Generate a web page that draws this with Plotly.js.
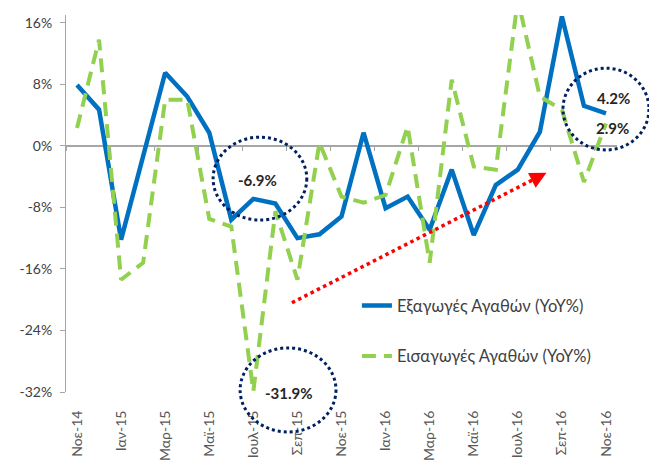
<!DOCTYPE html>
<html>
<head>
<meta charset="utf-8">
<script src="https://cdn.plot.ly/plotly-3.0.1.min.js"></script>
<style>html,body{margin:0;padding:0;background:#fff;}#chart{width:649px;height:461px;}</style>
</head>
<body>
<div id="chart"></div>
<script>
const months = ["Νοε-14","Δεκ-14","Ιαν-15","Φεβ-15","Μαρ-15","Απρ-15","Μαϊ-15","Ιουν-15","Ιουλ-15","Αυγ-15","Σεπ-15","Οκτ-15",
                "Νοε-15","Δεκ-15","Ιαν-16","Φεβ-16","Μαρ-16","Απρ-16","Μαϊ-16","Ιουν-16","Ιουλ-16","Αυγ-16","Σεπ-16","Οκτ-16","Νοε-16"];
const exportsYoY = [7.9, 4.7, -12.2, -1.5, 9.5, 6.4, 1.7, -9.6, -6.9, -7.5, -12.0, -11.5,
                    -9.2, 1.7, -8.1, -6.6, -10.9, -3.1, -11.6, -5.1, -3.1, 1.8, 16.8, 5.2, 4.2];
const importsYoY = [2.3, 13.8, -17.4, -15.2, 6.0, 6.0, -9.5, -10.5, -31.9, -8.5, -17.4, 0.4,
                    -6.6, -7.4, -6.4, 2.5, -15.2, 8.6, -2.7, -3.1, 19.0, 6.4, 4.7, -4.7, 2.9];
const labelMonths = months.filter((m, i) => i % 2 === 0);
const yTicks = [-32, -24, -16, -8, 0, 8, 16];
const yTickText = yTicks.map(v => v + "%");
const seriesNames = ["Εξαγωγές Αγαθών (YoY%)", "Εισαγωγές Αγαθών (YoY%)"];

const FONT = "Lato, 'Open Sans', sans-serif";
const traces = [
  {x: months, y: exportsYoY, type: "scatter", mode: "lines", name: seriesNames[0], legendgroup: "a",
   line: {color: "#0070C0", width: 4.5}},
  {x: months, y: importsYoY, type: "scatter", mode: "lines", name: seriesNames[1], legendgroup: "b",
   line: {color: "#92D050", width: 4, dash: "14px,8px"}},
  {x: [], y: [], xaxis: "x2", type: "scatter", showlegend: false, hoverinfo: "skip"}
];

const navy = "#002060";
const ann = (x, y, t) => ({xref: "paper", yref: "paper", x: x, y: y, xanchor: "center", yanchor: "middle",
  text: "<b>" + t + "</b>", showarrow: false, font: {family: FONT, size: 15, color: "#262626"}});
const layout = {
  width: 649, height: 461,
  margin: {l: 66, r: 32, t: 15, b: 69},
  paper_bgcolor: "#fff", plot_bgcolor: "#fff",
  font: {family: FONT, color: "#595959", size: 13},
  showlegend: true,
  legend: {x: 0.528, y: 0.275, xanchor: "left", yanchor: "top", tracegroupgap: 26,
           font: {family: FONT, size: 16.5, color: "#404040"}, bgcolor: "rgba(0,0,0,0)"},
  xaxis: {type: "category", range: [-0.5, 24.5], tickvals: labelMonths, ticktext: labelMonths,
          tickangle: -90, showline: false, showgrid: false, zeroline: false,
          ticks: "outside", ticklen: 12, tickcolor: "rgba(0,0,0,0)", automargin: false,
          tickfont: {family: FONT, size: 14, color: "#595959"}},
  xaxis2: {overlaying: "x", anchor: "free", position: 0.6525, range: [-0.5, 24.5],
           tickvals: [-0.5,1.5,3.5,5.5,7.5,9.5,11.5,13.5,15.5,17.5,19.5,21.5,23.5],
           showticklabels: false, ticks: "outside", ticklen: 4, tickcolor: "#A6A6A6",
           showline: false, showgrid: false, zeroline: false, automargin: false},
  yaxis: {range: [-32, 17], tickvals: yTicks, ticktext: yTickText, showgrid: false,
          showline: true, linecolor: "#A6A6A6", linewidth: 1, ticks: "outside", ticklen: 5,
          tickcolor: "#A6A6A6", zeroline: true, zerolinecolor: "#A6A6A6", zerolinewidth: 1.5,
          ticklabelstandoff: 5,
          automargin: false, tickfont: {family: FONT, size: 14, color: "#404040"}},
  shapes: [
    {type: "circle", xref: "paper", yref: "paper", x0: 0.267, x1: 0.437, y0: 0.456, y1: 0.676,
     line: {color: navy, width: 3, dash: "dot"}},
    {type: "circle", xref: "paper", yref: "paper", x0: 0.316, x1: 0.490, y0: -0.106, y1: 0.117,
     line: {color: navy, width: 3, dash: "dot"}},
    {type: "circle", xref: "paper", yref: "paper", x0: 0.902, x1: 1.058, y0: 0.642, y1: 0.859,
     line: {color: navy, width: 3, dash: "dot"}},
    {type: "line", xref: "x", yref: "y", x0: 9.75, y0: -20.4, x1: 20.9, y1: -4.1,
     line: {color: "#FF0000", width: 3.5, dash: "dot"}}
  ],
  annotations: [
    ann(0.347, 0.562, "-6.9%"),
    ann(0.405, -0.003, "-31.9%"),
    ann(0.993, 0.780, "4.2%"),
    ann(0.991, 0.700, "2.9%"),
    {xref: "x", yref: "y", axref: "x", ayref: "y", x: 21.3, y: -3.5, ax: 20.8, ay: -4.25,
     text: "", showarrow: true, arrowhead: 2, arrowsize: 1.1, arrowwidth: 3, arrowcolor: "#FF0000"}
  ]
};

Plotly.newPlot("chart", traces, layout, {displayModeBar: false, staticPlot: true});
</script>
</body>
</html>
